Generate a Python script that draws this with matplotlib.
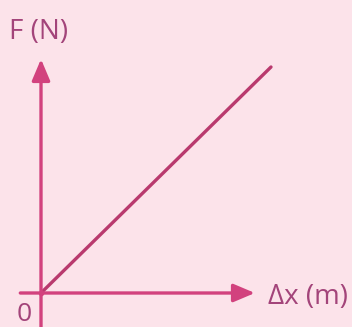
import matplotlib
matplotlib.use('Agg')
import matplotlib.pyplot as plt

# force vs extension (arbitrary units, straight line through origin)
dx = [0.0, 1.0]
F = [0.0, 1.0]

bg = '#fce3ea'
axcol = '#d2427e'
linecol = '#b93a6e'
txtcol = '#a3447a'

fig = plt.figure(figsize=(3.52, 3.27), dpi=100)
fig.patch.set_facecolor(bg)

# axes placed so origin sits at the drawn corner
ax = fig.add_axes([41/352, 34/327, 230/352, 226/327])
ax.set_facecolor(bg)
ax.set_xlim(0, 1)
ax.set_ylim(0, 1)
ax.axis('off')

ax.plot(dx, F, color=linecol, lw=2.4, solid_capstyle='round', clip_on=False)

arrow = dict(arrowstyle='-|>,head_length=1.3,head_width=0.55', color=axcol, lw=2.4,
             shrinkA=0, shrinkB=0)
ax.annotate('', xy=(0, 1.035), xytext=(0, -0.15), xycoords='axes fraction',
            arrowprops=arrow)
ax.annotate('', xy=(0.93, 0), xytext=(-0.09, 0), xycoords='axes fraction',
            arrowprops=arrow)

ax.plot([0], [0], 'o', ms=3, color='#e0407f', clip_on=False)

fig.text(9/352, 1 - 39/327, 'F (N)', fontsize=20, color=txtcol, family='Open Sans',
         va='baseline', ha='left')
fig.text(268/352, 1 - 304/327, 'Δx (m)', fontsize=20, color=txtcol, family='Open Sans',
         va='baseline', ha='left')
fig.text(17/352, 1 - 321/327, '0', fontsize=19, color=txtcol, family='Open Sans',
         va='baseline', ha='left')

fig.savefig('out.png', dpi=100, facecolor=bg)
